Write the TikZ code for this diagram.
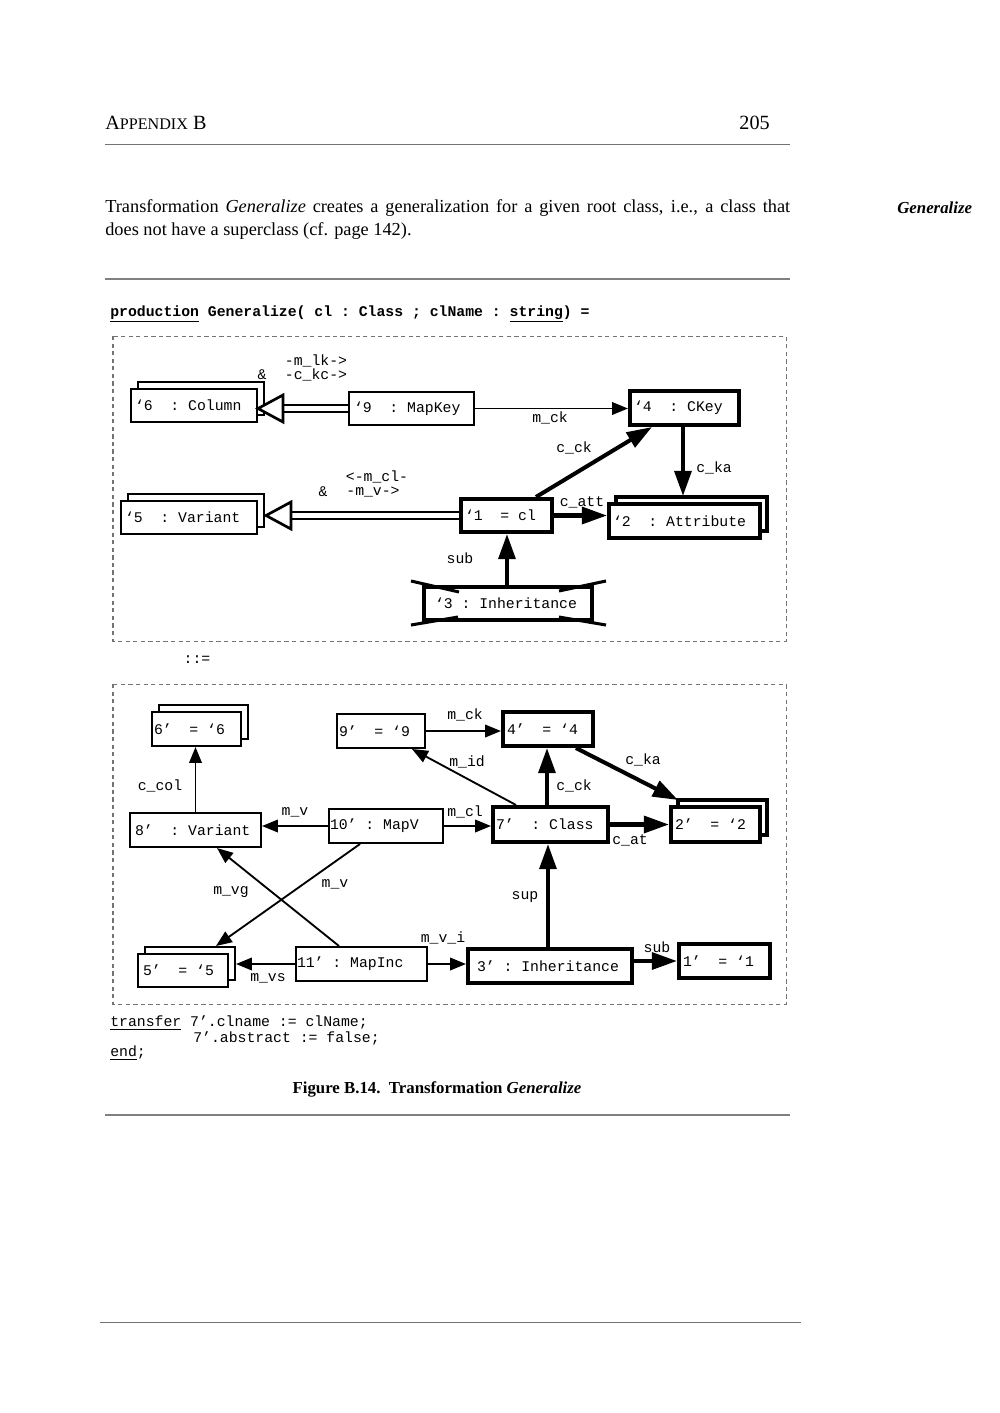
\documentclass[tikz,border=0pt]{standalone}
\usepackage{fontspec}
\setmainfont{Liberation Serif}
\setmonofont{Liberation Mono}
\usetikzlibrary{arrows.meta,shadows,calc}
\newcommand\pxu{0.595pt}
\newcommand\fixsp{\fontdimen2\font=0.6em\fontdimen3\font=0pt\fontdimen4\font=0pt\fontdimen7\font=0pt}
\newcommand\monof{\fontsize{8.8}{10}\selectfont\ttfamily\fixsp}
\newcommand\monob{\fontsize{8.8}{10}\selectfont\ttfamily\bfseries\fixsp}
\newcommand\dsp{\hspace*{1.2em}}
\newcommand\ssp{\hspace*{0.6em}}
\tikzset{
  obj/.style={draw, line width=1.2pt, fill=white, inner xsep=0pt, inner ysep=0pt, font=\monof, align=left},
  thk/.style={obj, line width=2.4pt},
  multi/.style={copy shadow={shadow xshift=3.9pt, shadow yshift=3.9pt}},
  lbl/.style={font=\monof, inner sep=0pt},
  thinarr/.style={line width=1.1pt, -{Triangle[length=9.5pt,width=7.5pt]}},
  fatarr/.style={line width=2.4pt, -{Triangle[length=15pt,width=10pt]}},
  dblline/.style={double, line width=0.9pt, double distance=3pt},
  hollowtip/.style={line width=1.6pt, fill=white, line join=miter},
  crossmark/.style={line width=1.8pt},
  dashbox/.style={draw=black!55, line width=0.6pt, dash pattern=on 2.5pt off 2pt},
  rulethin/.style={draw=black!55, line width=0.6pt},
  rulethick/.style={draw=black!50, line width=1.1pt},
  body/.style={inner sep=0pt, font=\fontsize{10.9}{13}\selectfont}
}
\newcommand\obj[8]{\node[#7, minimum width={(#4-#2)*\pxu}, minimum height={(#5-#3)*\pxu}, text width={(#4-#2-2*#6)*\pxu}] (#1) at ({(#2+#4)/2},{(#3+#5)/2}) {#8};}
\begin{document}
\begin{tikzpicture}[x=0.595pt, y=-0.595pt]
\useasboundingbox (0,0) rectangle (1000,1413);
\fill[white] (0,0) rectangle (1000,1413);

% page header and text
\node[anchor=west, inner sep=0pt, font=\fontsize{12}{14}\selectfont] (hd) at (105,123) {A{\fontsize{9.6}{11}\selectfont PPENDIX} B};
\node[anchor=east, inner sep=0pt, font=\fontsize{12}{14}\selectfont] (pg) at (770,123) {205};
\draw[rulethin] (105,144) -- (790,144);
\node[body, anchor=west] (p1) at (105,208) {\makebox[407.5pt][s]{Transformation \textit{Generalize} creates a generalization for a given root class, i.e., a class that}};
\node[body, anchor=west] (p2) at (105,231) {does not have a superclass (cf. page 142).};
\node[anchor=west, inner sep=0pt, font=\fontsize{10}{12}\selectfont\bfseries\itshape] (mg) at (897,208) {Generalize};
\draw[rulethick] (105,279) -- (790,279);

\node[inner sep=0pt, anchor=west, font=\monob] (prod) at (110,314) {\underline{production} Generalize( cl : Class ; clName : \underline{string}) =};

% upper frame
\draw[dashbox] (113,336) rectangle (786,641);

\obj{u6}{131}{389}{257}{422}{4}{obj,multi}{‘6\dsp:\ssp Column}
\obj{u9}{349}{392}{474}{425}{5}{obj}{‘9\dsp:\ssp MapKey}
\obj{u4}{630}{391}{739}{425}{4}{thk}{‘4\dsp:\ssp CKey}
\obj{u1}{461}{499}{552}{532}{4}{thk}{‘1\dsp=\ssp cl}
\obj{u2}{609}{504}{760}{538}{4}{thk,multi}{‘2\dsp:\ssp Attribute}
\obj{u5}{121}{501}{257}{534}{4}{obj,multi}{‘5\dsp:\ssp Variant}
\obj{u3}{424}{587}{592}{620}{11}{thk}{‘3\ssp:\ssp Inheritance}

\draw[crossmark] ($(u3.north west)+(-11,-4)$) -- ($(u3.north west)+(37,7)$);
\draw[crossmark] ($(u3.south west)+(-11,3)$) -- ($(u3.south west)+(36,-5)$);
\draw[crossmark] ($(u3.north east)+(12,-4)$) -- ($(u3.north east)+(-35,6)$);
\draw[crossmark] ($(u3.south east)+(12,3)$) -- ($(u3.south east)+(-35,-5)$);

\draw[dblline] (u9.west) -- ($(u6.east |- u9.west)+(25,0)$);
\draw[hollowtip] (u6.east |- u9.west) -- ++(25,-13.5) -- ++(0,27) -- cycle;
\draw[dblline] (u1.west) -- ($(u5.east |- u1.west)+(33,0)$);
\draw[hollowtip] ($(u5.east |- u1.west)+(8,0)$) -- ++(25,-13.5) -- ++(0,27) -- cycle;

\draw[thinarr] (u9.east) -- (u9.east -| u4.west);
\draw[fatarr] ($(u1.north west)+(77,0)$) -- ($(u4.south west)+(24,0)$);
\draw[fatarr] ($(u4.south west)+(55,0)$) -- ($(u2.north west)+(76,-6)$);
\draw[fatarr] (u1.east) -- (u1.east -| u2.west);
\draw[fatarr] ($(u3.north west)+(85,0)$) -- ($(u1.south west)+(48,0)$);

\node[lbl] (a1) at (316,361) {-m\_lk->};
\node[lbl] (a2) at (316,375) {-c\_kc->};
\node[lbl] (a3) at (262,375) {\&};
\node[lbl] (a4) at (550,418) {m\_ck};
\node[lbl] (a5) at (574,448) {c\_ck};
\node[lbl] (a6) at (714,468) {c\_ka};
\node[lbl] (a7) at (582,502) {c\_att};
\node[lbl] (a8) at (377,477) {<-m\_cl-};
\node[lbl] (a9) at (373,492) {-m\_v->};
\node[lbl] (a10) at (323,492) {\&};
\node[lbl] (a11) at (460,558) {sub};

\node[lbl] (def) at (197,660) {::=};

% lower frame
\draw[dashbox] (113,684) rectangle (786,1004);

\obj{l6}{152}{712}{241}{746}{2}{obj,multi}{6’\dsp=\ssp‘6}
\obj{l9}{337}{714}{425}{748}{2}{obj}{9’\dsp=\ssp‘9}
\obj{l4}{503}{712}{593}{746}{4}{thk}{4’\dsp=\ssp‘4}
\obj{l8}{130}{813}{261}{847}{5}{obj}{8’\dsp:\ssp Variant}
\obj{l10}{329}{809}{443}{843}{1}{obj}{10’\ssp:\ssp MapV}
\obj{l7}{493}{807}{608}{842}{3}{thk}{7’\dsp:\ssp Class}
\obj{l2}{671}{807}{760}{842}{4}{thk,multi}{2’\dsp=\ssp‘2}
\obj{l5}{138}{954}{228}{987}{5}{obj,multi}{5’\dsp=\ssp‘5}
\obj{l11}{296}{947}{427}{981}{1}{obj}{11’\ssp:\ssp MapInc}
\obj{l3}{468}{949}{632}{983}{9}{thk}{3’\ssp:\ssp Inheritance}
\obj{l1}{679}{944}{770}{978}{4}{thk}{1’\dsp=\ssp‘1}

\draw[thinarr] (l9.east) -- (l9.east -| l4.west);
\draw[thinarr] ($(l7.north west)+(25,0)$) -- ($(l9.south west)+(76,0)$);
\draw[fatarr] ($(l7.north west)+(56,0)$) -- ($(l4.south west)+(46,0)$);
\draw[fatarr] ($(l4.south west)+(75,0)$) -- ($(l2.north west)+(9,-5)$);
\draw[fatarr] (l7.east) -- (l7.east -| l2.west);
\draw[thinarr] (l10.east) -- (l10.east -| l7.west);
\draw[thinarr] (l10.west) -- (l10.west -| l8.east);
\draw[thinarr] (l8.north) -- (l8.north |- l6.south);
\draw[thinarr] ($(l10.south west)+(32,0)$) -- ($(l5.north west)+(79,-7)$);
\draw[thinarr] ($(l11.north west)+(44,0)$) -- ($(l8.south west)+(88,0)$);
\draw[thinarr] (l11.west) -- ($(l11.west -| l5.east)+(7,0)$);
\draw[thinarr] (l11.east) -- (l11.east -| l3.west);
\draw[fatarr] ($(l3.north west)+(82,0)$) -- ($(l7.south west)+(57,0)$);
\draw[fatarr] (l1.west -| l3.east) -- (l1.west);

\node[lbl] (b1) at (465,715) {m\_ck};
\node[lbl] (b2) at (467,762) {m\_id};
\node[lbl] (b3) at (160,786) {c\_col};
\node[lbl] (b4) at (295,812) {m\_v};
\node[lbl] (b5) at (465,812) {m\_cl};
\node[lbl] (b6) at (643,760) {c\_ka};
\node[lbl] (b7) at (574,786) {c\_ck};
\node[lbl] (b8) at (630,840) {c\_at};
\node[lbl] (b9) at (231,892) {m\_vg};
\node[lbl] (b10) at (335,884) {m\_v};
\node[lbl] (b11) at (443,938) {m\_v\_i};
\node[lbl] (b12) at (268,978) {m\_vs};
\node[lbl] (b13) at (525,897) {sup};
\node[lbl] (b14) at (657,947) {sub};

% transfer part
\node[lbl, anchor=west] (tr1) at (110,1023) {\underline{transfer} 7’.clname := clName;};
\node[lbl, anchor=west] (tr2) at (193,1038) {7’.abstract := false;};
\node[lbl, anchor=west] (tr3) at (110,1053) {\underline{end};};

\node[inner sep=0pt, font=\fontsize{10}{12}\selectfont\bfseries] (cap) at (437,1089) {Figure B.14.\ \ Transformation \textit{Generalize}};
\draw[rulethick] (105,1115) -- (790,1115);
\draw[rulethin] (100,1322) -- (801,1322);
\end{tikzpicture}
\end{document}
